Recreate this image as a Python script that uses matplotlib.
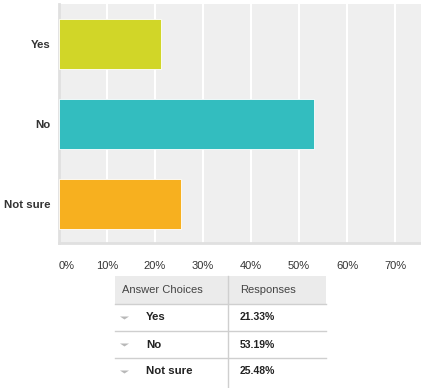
import matplotlib
matplotlib.use("Agg")
import matplotlib.pyplot as plt
from matplotlib.transforms import ScaledTranslation

# survey data
choices = ["Yes", "No", "Not sure"]
responses = [21.33, 53.19, 25.48]
bar_colors = ["#d1d628", "#33bdbf", "#f7b01f"]
x_ticks = [0, 10, 20, 30, 40, 50, 60, 70]

plt.rcParams['font.family'] = ['Liberation Sans', 'DejaVu Sans']

W, H = 421, 388
fig = plt.figure(figsize=(W / 100, H / 100), dpi=100)
fig.patch.set_facecolor('white')

# bar chart area (pixel box: x 59..421, y 4..243)
ax = fig.add_axes([59 / W, (H - 243) / H, (W - 59) / W, (243 - 4) / H])
ax.set_facecolor('#efefef')
y = list(range(len(choices)))
ax.barh(y, responses, height=0.625, color=bar_colors, edgecolor='white',
        linewidth=0.6, zorder=3)
ax.set_xlim(0, 75.4)
ax.set_ylim(2.49, -0.5)
ax.set_xticks(x_ticks)
ax.set_xticklabels([f"{t}%" for t in x_ticks], fontsize=8, color='#333333')
ax.set_yticks(y)
ax.set_yticklabels(choices, fontsize=8.2, fontweight='bold', color='#333333')
ax.tick_params(axis='both', length=0)
ax.tick_params(axis='x', pad=13)
ax.tick_params(axis='y', pad=6)
ax.grid(axis='x', color='white', linewidth=1.5, zorder=1)
for s in ['top', 'right']:
    ax.spines[s].set_visible(False)
for s in ['left', 'bottom']:
    ax.spines[s].set_color('#e0e0e0')
    ax.spines[s].set_linewidth(2)
# first tick label sits right of the axis line
first = ax.get_xticklabels()[0]
first.set_transform(first.get_transform() + ScaledTranslation(8 / 100, 0, fig.dpi_scale_trans))

# summary table below, drawn in pixel coordinates
tab = fig.add_axes([0, 0, 1, 1])
tab.set_xlim(0, W)
tab.set_ylim(H, 0)
tab.axis('off')

left, mid, right = 115, 228, 326
top, head_h, row_h = 276, 28, 27
tab.add_patch(plt.Rectangle((left, top), right - left, head_h,
                            facecolor='#ebebeb', edgecolor='none'))
tab.text(left + 7, top + head_h / 2, "Answer Choices", fontsize=8,
         color='#444444', va='center')
tab.text(mid + 12, top + head_h / 2, "Responses", fontsize=8,
         color='#444444', va='center')
line_col = '#cfcfcf'
tab.plot([left, right], [top + head_h, top + head_h], color=line_col, lw=1)
tab.plot([mid, mid], [top, H], color=line_col, lw=1)
for i, (c, r) in enumerate(zip(choices, responses)):
    yc = top + head_h + row_h * i + row_h / 2
    tab.add_patch(plt.Polygon([(left + 5, yc - 1), (left + 14, yc - 1), (left + 9.5, yc + 2)],
                              closed=True, facecolor='#b8b8b8', edgecolor='none'))
    tab.text(left + 31, yc, c, fontsize=8.2, fontweight='bold', color='#222222',
             va='center')
    tab.text(mid + 12, yc, f"{r:.2f}%", fontsize=7.5, fontweight='bold',
             color='#222222', va='center')
    if i < len(choices) - 1:
        yl = top + head_h + row_h * (i + 1)
        tab.plot([left, right], [yl, yl], color=line_col, lw=1)

fig.savefig('out.png', dpi=100)
